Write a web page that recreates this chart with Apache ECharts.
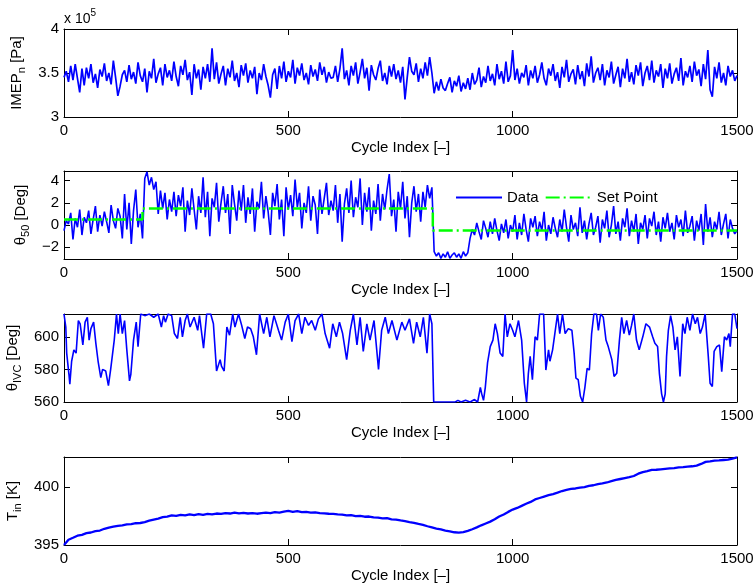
<!DOCTYPE html>
<html><head><meta charset="utf-8">
<script src="https://cdn.jsdelivr.net/npm/echarts@6/dist/echarts.min.js"></script>
<style>html,body{margin:0;padding:0;background:#fff}#c{width:756px;height:586px}</style>
</head><body><div id="c"></div>
<script>
// ---------------- data ----------------
const STEP = 5;        // cycles between stored IMEP / theta50 samples
const TIN_STEP = 10;   // cycles between stored T_in samples
const xTickValues = [0, 500, 1000, 1500];

// IMEP_n in units of 1e5 Pa, every 5 cycles (0..1500)
const imepValues = [
3.45,3.52,3.40,3.58,3.42,3.60,3.44,3.28,3.55,3.36,
3.56,3.44,3.60,3.39,3.49,3.33,3.54,3.46,3.61,3.41,
3.50,3.37,3.64,3.45,3.24,3.35,3.48,3.53,3.40,3.59,
3.43,3.51,3.38,3.62,3.47,3.40,3.55,3.28,3.52,3.44,
3.66,3.39,3.49,3.56,3.36,3.60,3.45,3.53,3.41,3.63,
3.46,3.35,3.58,3.48,3.65,3.42,3.51,3.25,3.60,3.44,
3.54,3.31,3.57,3.44,3.60,3.40,3.78,3.43,3.62,3.38,
3.49,3.58,3.36,3.55,3.45,3.64,3.41,3.50,3.34,3.59,
3.47,3.61,3.39,3.53,3.44,3.57,3.26,3.50,3.42,3.60,
3.46,3.36,3.22,3.48,3.55,3.32,3.58,3.44,3.63,3.40,
3.52,3.45,3.65,3.38,3.56,3.47,3.61,3.42,3.50,3.37,
3.59,3.46,3.54,3.41,3.62,3.48,3.57,3.39,3.51,3.44,
3.45,3.58,3.40,3.55,3.78,3.43,3.53,3.36,3.58,3.47,
3.62,3.38,3.51,3.66,3.44,3.56,3.30,3.59,3.48,3.42,
3.55,3.64,3.41,3.50,3.37,3.58,3.46,3.60,3.43,3.53,
3.39,3.57,3.20,3.45,3.68,3.52,3.48,3.61,3.40,3.55,
3.44,3.62,3.47,3.68,3.50,3.27,3.40,3.30,3.43,3.33,
3.30,3.38,3.45,3.28,3.41,3.35,3.47,3.29,3.39,3.32,
3.44,3.31,3.50,3.37,3.42,3.56,3.34,3.46,3.39,3.58,
3.41,3.49,3.36,3.60,3.43,3.52,3.38,3.63,3.40,3.47,
3.76,3.42,3.55,3.38,3.50,3.45,3.59,3.36,3.53,3.44,
3.58,3.39,3.48,3.62,3.44,3.36,3.55,3.47,3.60,3.41,
3.51,3.33,3.57,3.45,3.65,3.40,3.49,3.54,3.37,3.59,
3.43,3.52,3.35,3.61,3.46,3.69,3.39,3.50,3.56,3.42,
3.60,3.36,3.53,3.45,3.63,3.38,3.48,3.57,3.34,3.55,
3.44,3.66,3.40,3.51,3.37,3.59,3.47,3.62,3.35,3.50,
3.58,3.42,3.64,3.39,3.53,3.46,3.60,3.33,3.55,3.44,
3.61,3.38,3.49,3.56,3.41,3.67,3.36,3.52,3.45,3.58,
3.40,3.63,3.47,3.54,3.35,3.60,3.43,3.76,3.31,3.23,
3.57,3.44,3.62,3.39,3.50,3.36,3.58,3.46,3.53,3.41,
3.47
];

// theta_50 [deg], every 5 cycles
const theta50Values = [
-0.5,0.4,0.1,1.1,-1.3,0.6,-0.2,1.4,-0.9,0.7,
0.2,1.3,-0.8,0.5,1.7,-0.6,0.9,-0.1,1.2,0.3,
-0.7,1.8,0.4,-0.3,1.5,0.8,-1.2,2.8,-0.4,2.0,
-1.7,1.3,3.2,-0.2,1.0,-1.2,4.2,4.8,3.6,4.3,
3.2,3.9,1.0,3.1,1.5,2.9,0.5,2.3,1.2,3.0,
0.8,2.7,1.7,3.4,-0.6,2.2,0.9,3.3,1.4,-0.4,
2.6,1.1,4.3,0.7,3.0,-1.0,2.4,1.6,3.8,0.3,
2.0,3.5,1.1,2.8,-0.8,3.6,1.9,0.4,3.1,1.3,
3.6,0.2,2.5,1.0,3.3,-0.6,2.1,1.5,3.9,0.6,
2.6,1.2,-0.9,2.9,1.7,3.7,0.5,2.3,-1.0,3.4,
1.4,2.7,0.8,4.1,1.6,2.9,-0.3,2.0,1.1,3.5,
0.4,2.6,1.8,-0.8,3.2,1.0,2.4,3.8,0.9,2.2,
1.3,3.6,0.2,2.8,-1.5,1.9,3.3,1.1,4.0,0.7,
2.5,1.6,4.2,0.0,2.9,1.2,3.4,-0.5,2.2,1.0,
3.7,0.4,2.8,1.4,3.2,4.6,0.8,2.3,-0.6,3.0,
1.5,3.9,0.6,2.6,-1.1,2.0,3.5,1.2,2.8,0.3,
3.0,1.6,3.6,2.4,3.4,-2.4,-2.8,-2.5,-3.0,-2.6,
-2.9,-2.4,-3.0,-2.7,-2.5,-2.9,-2.6,-3.0,-2.4,-2.8,
-2.5,-1.2,-0.4,-0.9,0.2,-0.6,-1.3,0.4,-0.3,-1.1,
0.3,-0.8,0.6,-0.5,-1.4,0.1,-0.7,0.5,-1.2,0.0,
-0.6,0.9,-1.3,0.2,-0.9,1.0,-0.4,-1.5,0.6,-0.2,
0.8,-1.0,0.3,-0.5,1.2,-1.4,0.0,-0.8,0.7,-0.3,
-1.1,0.5,-0.6,1.4,-0.2,-1.5,0.9,-0.4,0.2,-1.0,
1.6,-0.7,0.4,-1.3,0.1,1.1,-0.9,-0.2,0.8,-1.6,
0.5,-0.3,1.3,-1.1,0.0,1.7,-0.8,0.3,-1.4,0.6,
-0.2,1.5,-1.0,0.4,-0.6,1.0,-1.7,0.2,-0.4,0.9,
-1.2,0.6,-0.1,1.2,-0.9,0.3,-1.5,0.7,-0.3,1.1,
-0.6,0.2,-1.3,0.9,-0.2,0.5,-1.0,1.3,-0.7,-0.1,
0.8,-1.4,0.4,-0.5,1.0,-1.8,1.9,-0.6,0.7,-1.1,
0.3,-0.4,1.2,-0.9,0.1,1.0,-1.2,0.5,-0.3,-0.8,
-0.5
];

// theta_50 set point [deg]
const setPointCycles = [0, 175, 175, 822, 822, 1500];
const setPointValues = [0.5, 0.5, 1.5, 1.5, -0.5, -0.5];

// theta_IVC [deg] read at the trace's turning points
const ivcCycles = [
0,4,6,11,13,17,22,27,32,36,
42,47,52,56,60,66,71,76,82,86,
93,99,104,112,117,121,125,130,135,140,
146,149,155,161,165,171,180,190,200,210,
217,222,226,232,240,246,253,259,264,270,
275,281,290,298,302,311,318,327,333,340,
348,351,357,363,369,376,381,389,396,403,
409,416,422,429,436,445,452,459,468,478,
485,493,500,508,515,523,530,537,545,552,
560,567,575,582,592,599,607,614,621,630,
638,645,653,660,667,675,682,691,701,708,
716,723,731,742,753,760,770,779,786,794,
801,809,815,820,824,850,872,878,885,895,
905,915,922,928,931,935,939,944,950,956,
961,966,972,978,983,988,994,1000,1005,1013,
1020,1026,1031,1035,1039,1044,1050,1055,1060,1069,
1074,1080,1083,1089,1094,1100,1105,1111,1117,1124,
1132,1137,1141,1146,1151,1156,1161,1166,1171,1176,
1181,1187,1191,1196,1202,1208,1213,1221,1226,1232,
1238,1243,1248,1254,1260,1265,1270,1276,1282,1290,
1297,1305,1312,1317,1323,1327,1332,1336,1340,1343,
1347,1352,1357,1362,1367,1373,1379,1384,1389,1395,
1401,1407,1412,1418,1423,1429,1433,1436,1440,1445,
1449,1455,1461,1466,1472,1477,1482,1485,1490,1495,
1500
];
const ivcValues = [
614,606,590,577,571,585,592,590,610,608,
595,609,612,598,605,609,596,585,575,580,
579,570,580,598,614,602,614,602,610,592,
573,577,598,609,594,614,613,614,612,614,
606,613,609,614,613,602,599,612,600,610,
614,606,612,604,613,593,614,614,608,579,
586,582,579,606,601,614,606,614,607,599,
606,605,600,589,614,602,612,600,613,604,
598,609,614,597,610,614,602,612,607,610,
604,611,614,602,593,608,600,609,602,586,
604,614,595,612,591,608,598,610,580,604,
612,602,610,598,609,604,611,596,609,600,
612,590,614,608,560,560,560,561,560,561,
560,561.5,560,569,565,561,569,584,594,598,
608,602,590,588,614,600,608,604,600,610,
598,571.5,560,577.6,588,573.7,600,598,614,614,
579.6,592,585,592,602,614,602,614,602,605,
604,590,574.7,573.7,563.5,560,569,580.6,579.6,602,
614,614,604,614,612,598,594,586,575.7,577.6,
598,612,602,610,601,607,614,598,592,600,
608,606,600,596,594,577.6,565,560,565,588,
604,613,606,592,600,575.7,608,602,612,604,
614,608,612,602,606,614,614,588,571.5,569.5,
591,594,595,578.6,600,598,602,594,614,614,
605
];

// T_in [K], every 10 cycles
const tinValues = [
395.00,395.45,395.62,395.80,395.88,396.02,396.08,396.20,396.25,396.40,
396.50,396.58,396.66,396.70,396.78,396.80,396.88,396.90,396.98,397.10,
397.20,397.28,397.40,397.46,397.55,397.52,397.60,397.56,397.64,397.58,
397.66,397.60,397.68,397.64,397.72,397.68,397.76,397.72,397.80,397.74,
397.78,397.72,397.76,397.70,397.75,397.80,397.76,397.84,397.80,397.88,
397.94,397.86,397.92,397.84,397.86,397.80,397.82,397.76,397.74,397.70,
397.68,397.64,397.62,397.56,397.58,397.50,397.52,397.44,397.46,397.38,
397.36,397.30,397.32,397.22,397.20,397.12,397.06,396.98,396.92,396.82,
396.74,396.62,396.52,396.42,396.34,396.24,396.18,396.10,396.06,396.12,
396.22,396.36,396.52,396.70,396.86,397.02,397.22,397.46,397.64,397.86,
398.06,398.20,398.38,398.56,398.72,398.94,399.06,399.18,399.30,399.40,
399.52,399.66,399.76,399.84,399.88,399.96,400.00,400.10,400.16,400.26,
400.32,400.40,400.52,400.62,400.70,400.78,400.86,400.96,401.16,401.30,
401.38,401.48,401.50,401.54,401.58,401.62,401.64,401.70,401.72,401.76,
401.80,401.86,402.00,402.18,402.22,402.28,402.30,402.34,402.38,402.46,
402.56
];

// ---------------- chart ----------------
const FONT = "'Liberation Sans', Arial, Helvetica, sans-serif";
const BLUE = '#0000ff';
const chart = echarts.init(document.getElementById('c'), null, {renderer: 'canvas'});

const gridTops = [29, 171, 314, 457];
const grids = gridTops.map(t => ({left: 64, right: 19, top: t, height: 88, outerBoundsMode: 'none', containLabel: false}));

const yRanges = [
  {min: 3, max: 4, interval: 0.5},
  {min: -3.06, max: 4.87},
  {min: 560, max: 614, interval: 20},
  {min: 395, max: 402.6, interval: 5}
];
const yNames = [
  '{a|IMEP}{s|n}{a| [Pa]}',
  '{a|θ}{s|50}{a| [Deg]}',
  '{a|θ}{s|IVC}{a| [Deg]}',
  '{a|T}{s|in}{a| [K]}'
];
const yNameGaps = [33, 27, 38, 40];

const richName = {
  a: {fontSize: 15, fontFamily: FONT, color: '#000', lineHeight: 20, verticalAlign: 'middle'},
  s: {fontSize: 11, fontFamily: FONT, color: '#000', lineHeight: 11, verticalAlign: 'bottom'}
};

const lineAxis = () => ({show: true, onZero: false, lineStyle: {color: '#000', width: 1}});
const tickIn = () => ({show: true, inside: true, length: 6, lineStyle: {color: '#000', width: 1}});

const xAxes = [];
const yAxes = [];
for (let i = 0; i < 4; i++) {
  xAxes.push({
    type: 'value', gridIndex: i, position: 'bottom', min: 0, max: 1500, interval: 500,
    axisLine: lineAxis(), axisTick: tickIn(), splitLine: {show: false},
    axisLabel: {color: '#000', fontSize: 15, fontFamily: FONT, margin: 6, formatter: v => String(v)},
    name: 'Cycle Index [–]', nameLocation: 'middle', nameGap: 23,
    nameTextStyle: {color: '#000', fontSize: 15, fontFamily: FONT}
  });
}
for (let i = 0; i < 4; i++) {
  xAxes.push({
    type: 'value', gridIndex: i, position: 'top', min: 0, max: 1500, interval: 500,
    axisLine: lineAxis(), axisTick: tickIn(), splitLine: {show: false}, axisLabel: {show: false}
  });
}
const fmtMinus = v => String(v).replace('-', '\u2212');
for (let i = 0; i < 4; i++) {
  yAxes.push(Object.assign({
    type: 'value', gridIndex: i, position: 'left',
    axisLine: lineAxis(), axisTick: tickIn(), splitLine: {show: false},
    axisLabel: {color: '#000', fontSize: 15, fontFamily: FONT, margin: 5, formatter: fmtMinus,
      showMinLabel: i !== 1, showMaxLabel: i === 0},
    name: yNames[i], nameLocation: 'middle', nameGap: yNameGaps[i],
    nameTextStyle: {rich: richName, color: '#000'}
  }, yRanges[i]));
}
for (let i = 0; i < 4; i++) {
  yAxes.push(Object.assign({
    type: 'value', gridIndex: i, position: 'right',
    axisLine: lineAxis(), axisTick: tickIn(), splitLine: {show: false}, axisLabel: {show: false}
  }, yRanges[i]));
}

const imepData = imepValues.map((v, i) => [i * STEP, v]);
const theta50Data = theta50Values.map((v, i) => [i * STEP, v]);
const setPointData = setPointCycles.map((c, i) => [c, setPointValues[i]]);
const ivcData = ivcCycles.map((c, i) => [c, ivcValues[i]]);
const tinData = tinValues.map((v, i) => [i * TIN_STEP, v]);

const base = {type: 'line', symbol: 'none', animation: false, clip: true};
chart.setOption({
  backgroundColor: '#fff',
  animation: false,
  grid: grids,
  xAxis: xAxes,
  yAxis: yAxes,
  legend: {
    data: ['Data', 'Set Point'], left: 450, top: 185, itemWidth: 46, itemHeight: 12, itemGap: 6,
    itemStyle: {opacity: 0},
    textStyle: {color: '#000', fontSize: 15, fontFamily: FONT}
  },
  graphic: [{
    type: 'text', left: 64, top: 8,
    style: {
      text: '{a|x 10}{p|5}',
      rich: {
        a: {fontSize: 14, fontFamily: FONT, fill: '#000', lineHeight: 22, verticalAlign: 'middle'},
        p: {fontSize: 10, fontFamily: FONT, fill: '#000', lineHeight: 10, verticalAlign: 'top'}
      }
    }
  }],
  series: [
    Object.assign({}, base, {name: 'IMEP', xAxisIndex: 0, yAxisIndex: 0, data: imepData,
      lineStyle: {color: BLUE, width: 1.7}, itemStyle: {color: BLUE}}),
    Object.assign({}, base, {name: 'Data', xAxisIndex: 1, yAxisIndex: 1, data: theta50Data,
      lineStyle: {color: BLUE, width: 1.6}, itemStyle: {color: BLUE}}),
    Object.assign({}, base, {name: 'Set Point', xAxisIndex: 1, yAxisIndex: 1, data: setPointData,
      lineStyle: {color: '#00ff00', width: 2.5, type: [14, 4, 2, 4]}, itemStyle: {color: '#00ff00'}}),
    Object.assign({}, base, {name: 'IVC', xAxisIndex: 2, yAxisIndex: 2, data: ivcData,
      lineStyle: {color: BLUE, width: 1.6}, itemStyle: {color: BLUE}}),
    Object.assign({}, base, {name: 'Tin', xAxisIndex: 3, yAxisIndex: 3, data: tinData,
      lineStyle: {color: BLUE, width: 2.3}, itemStyle: {color: BLUE}})
  ]
});
</script>
</body></html>
